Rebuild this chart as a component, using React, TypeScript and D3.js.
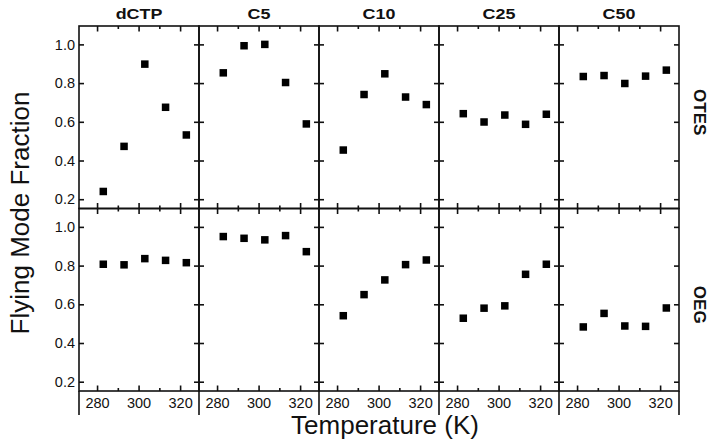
import React, { useEffect, useRef } from "react";
import * as d3 from "d3";

// Temperatures (K) at which each fraction was measured
const temps = [283, 293, 303, 313, 323];
const columns = ["dCTP", "C5", "C10", "C25", "C50"];
const rows = ["OTES", "OEG"];

// one list per column, same order as `columns`
const otesValues = [
  [0.24, 0.473, 0.898, 0.675, 0.532],
  [0.853, 0.993, 1.0, 0.803, 0.589],
  [0.454, 0.741, 0.848, 0.728, 0.689],
  [0.642, 0.599, 0.635, 0.587, 0.639],
  [0.834, 0.839, 0.798, 0.836, 0.867],
];
const oegValues = [
  [0.807, 0.804, 0.836, 0.827, 0.815],
  [0.95, 0.941, 0.933, 0.955, 0.872],
  [0.541, 0.65, 0.726, 0.805, 0.829],
  [0.528, 0.58, 0.592, 0.755, 0.807],
  [0.483, 0.553, 0.488, 0.486, 0.581],
];

const xMajor = [280, 300, 320];
const xMinor = [290, 310];
const yTicks = [0.2, 0.4, 0.6, 0.8, 1.0];

const App = () => {
  const ref = useRef<SVGSVGElement>(null);

  useEffect(() => {
    const svg = d3.select(ref.current);
    svg.selectAll("*").remove();

    const width = 714;
    const height = 447;
    const left = 79;
    const top = 26;
    const panelW = 120;
    const panelH = 182.5;
    const font = "'Liberation Sans', Arial, sans-serif";

    svg.attr("width", width).attr("height", height);

    const rowData = [otesValues, oegValues];

    rows.forEach((rowName, r) => {
      columns.forEach((colName, c) => {
        const x0 = left + c * panelW;
        const y0 = top + r * panelH;
        const x = d3.scaleLinear().domain([271.3, 329.1]).range([x0, x0 + panelW]);
        const y = d3.scaleLinear().domain([0.152, 1.095]).range([y0 + panelH, y0]);

        const g = svg.append("g");

        const styleAxis = (sel: any) => {
          sel.select(".domain").remove();
          sel.selectAll("line").attr("stroke", "#111").attr("stroke-width", 1.6);
          sel.selectAll("text").attr("font-family", font).attr("font-size", 14.5).attr("fill", "#111");
        };

        // top & bottom ticks pointing inwards
        g.append("g").attr("transform", `translate(0,${y0})`)
          .call(d3.axisTop(x).tickValues(xMajor).tickSize(-5.5).tickFormat(() => "")).call(styleAxis);
        g.append("g").attr("transform", `translate(0,${y0})`)
          .call(d3.axisTop(x).tickValues(xMinor).tickSize(-3).tickFormat(() => "")).call(styleAxis);
        g.append("g").attr("transform", `translate(0,${y0 + panelH})`)
          .call(d3.axisBottom(x).tickValues(xMajor).tickSize(-5.5).tickFormat(() => "")).call(styleAxis);
        g.append("g").attr("transform", `translate(0,${y0 + panelH})`)
          .call(d3.axisBottom(x).tickValues(xMinor).tickSize(-3).tickFormat(() => "")).call(styleAxis);

        // left & right ticks pointing inwards
        g.append("g").attr("transform", `translate(${x0},0)`)
          .call(d3.axisLeft(y).tickValues(yTicks).tickSize(-5).tickFormat(() => "")).call(styleAxis);
        g.append("g").attr("transform", `translate(${x0 + panelW},0)`)
          .call(d3.axisRight(y).tickValues(yTicks).tickSize(-5).tickFormat(() => "")).call(styleAxis);

        if (c === 0) {
          g.append("g").attr("transform", `translate(${x0},0)`)
            .call(d3.axisLeft(y).tickValues(yTicks).tickSize(0).tickPadding(4).tickFormat(d3.format(".1f")))
            .call(styleAxis);
        }
        if (r === rows.length - 1) {
          g.append("g").attr("transform", `translate(0,${y0 + panelH})`)
            .call(d3.axisBottom(x).tickValues(xMajor).tickSize(0).tickPadding(6.5).tickFormat(d3.format("d")))
            .call(styleAxis);
        }

        g.append("rect")
          .attr("x", x0).attr("y", y0)
          .attr("width", panelW).attr("height", panelH)
          .attr("fill", "none").attr("stroke", "#111").attr("stroke-width", 1.6);

        const vals = rowData[r][c];
        const s = 7.5;
        g.selectAll("rect.pt")
          .data(temps.map((t, i) => [t, vals[i]]))
          .join("rect")
          .attr("class", "pt")
          .attr("x", (d) => x(d[0]) - s / 2)
          .attr("y", (d) => y(d[1]) - s / 2)
          .attr("width", s).attr("height", s)
          .attr("fill", "#000");

        if (r === 0) {
          svg.append("text")
            .attr("transform", `translate(${x0 + panelW / 2},18.5) scale(1.28,1)`)
            .attr("text-anchor", "middle")
            .attr("font-family", font).attr("font-weight", "bold").attr("font-size", 14)
            .attr("fill", "#111")
            .text(colName);
        }
        if (c === columns.length - 1) {
          const cy = y0 + panelH / 2 + (r === 0 ? -5 : 5);
          svg.append("text")
            .attr("transform", `translate(693.5,${cy}) rotate(90)`)
            .attr("text-anchor", "middle")
            .attr("font-family", font).attr("font-weight", "bold").attr("font-size", 17)
            .attr("fill", "#111")
            .text(rowName);
        }
      });
    });

    // panel edges run on below the bottom axis
    d3.range(columns.length + 1).forEach((i) => {
      svg.append("line")
        .attr("x1", left + i * panelW).attr("x2", left + i * panelW)
        .attr("y1", top + rows.length * panelH).attr("y2", 415)
        .attr("stroke", "#111").attr("stroke-width", 1.6);
    });

    svg.append("text")
      .attr("transform", `translate(29,213) rotate(-90)`)
      .attr("text-anchor", "middle")
      .attr("font-family", font).attr("font-size", 26)
      .attr("fill", "#111")
      .text("Flying Mode Fraction");

    svg.append("text")
      .attr("x", 385).attr("y", 434)
      .attr("text-anchor", "middle")
      .attr("font-family", font).attr("font-size", 26)
      .attr("fill", "#111")
      .text("Temperature (K)");
  }, []);

  return (
    <div style={{ position: "absolute", left: 0, top: 0 }}>
      <svg ref={ref} style={{ display: "block", background: "#fff" }} />
    </div>
  );
};

export default App;
